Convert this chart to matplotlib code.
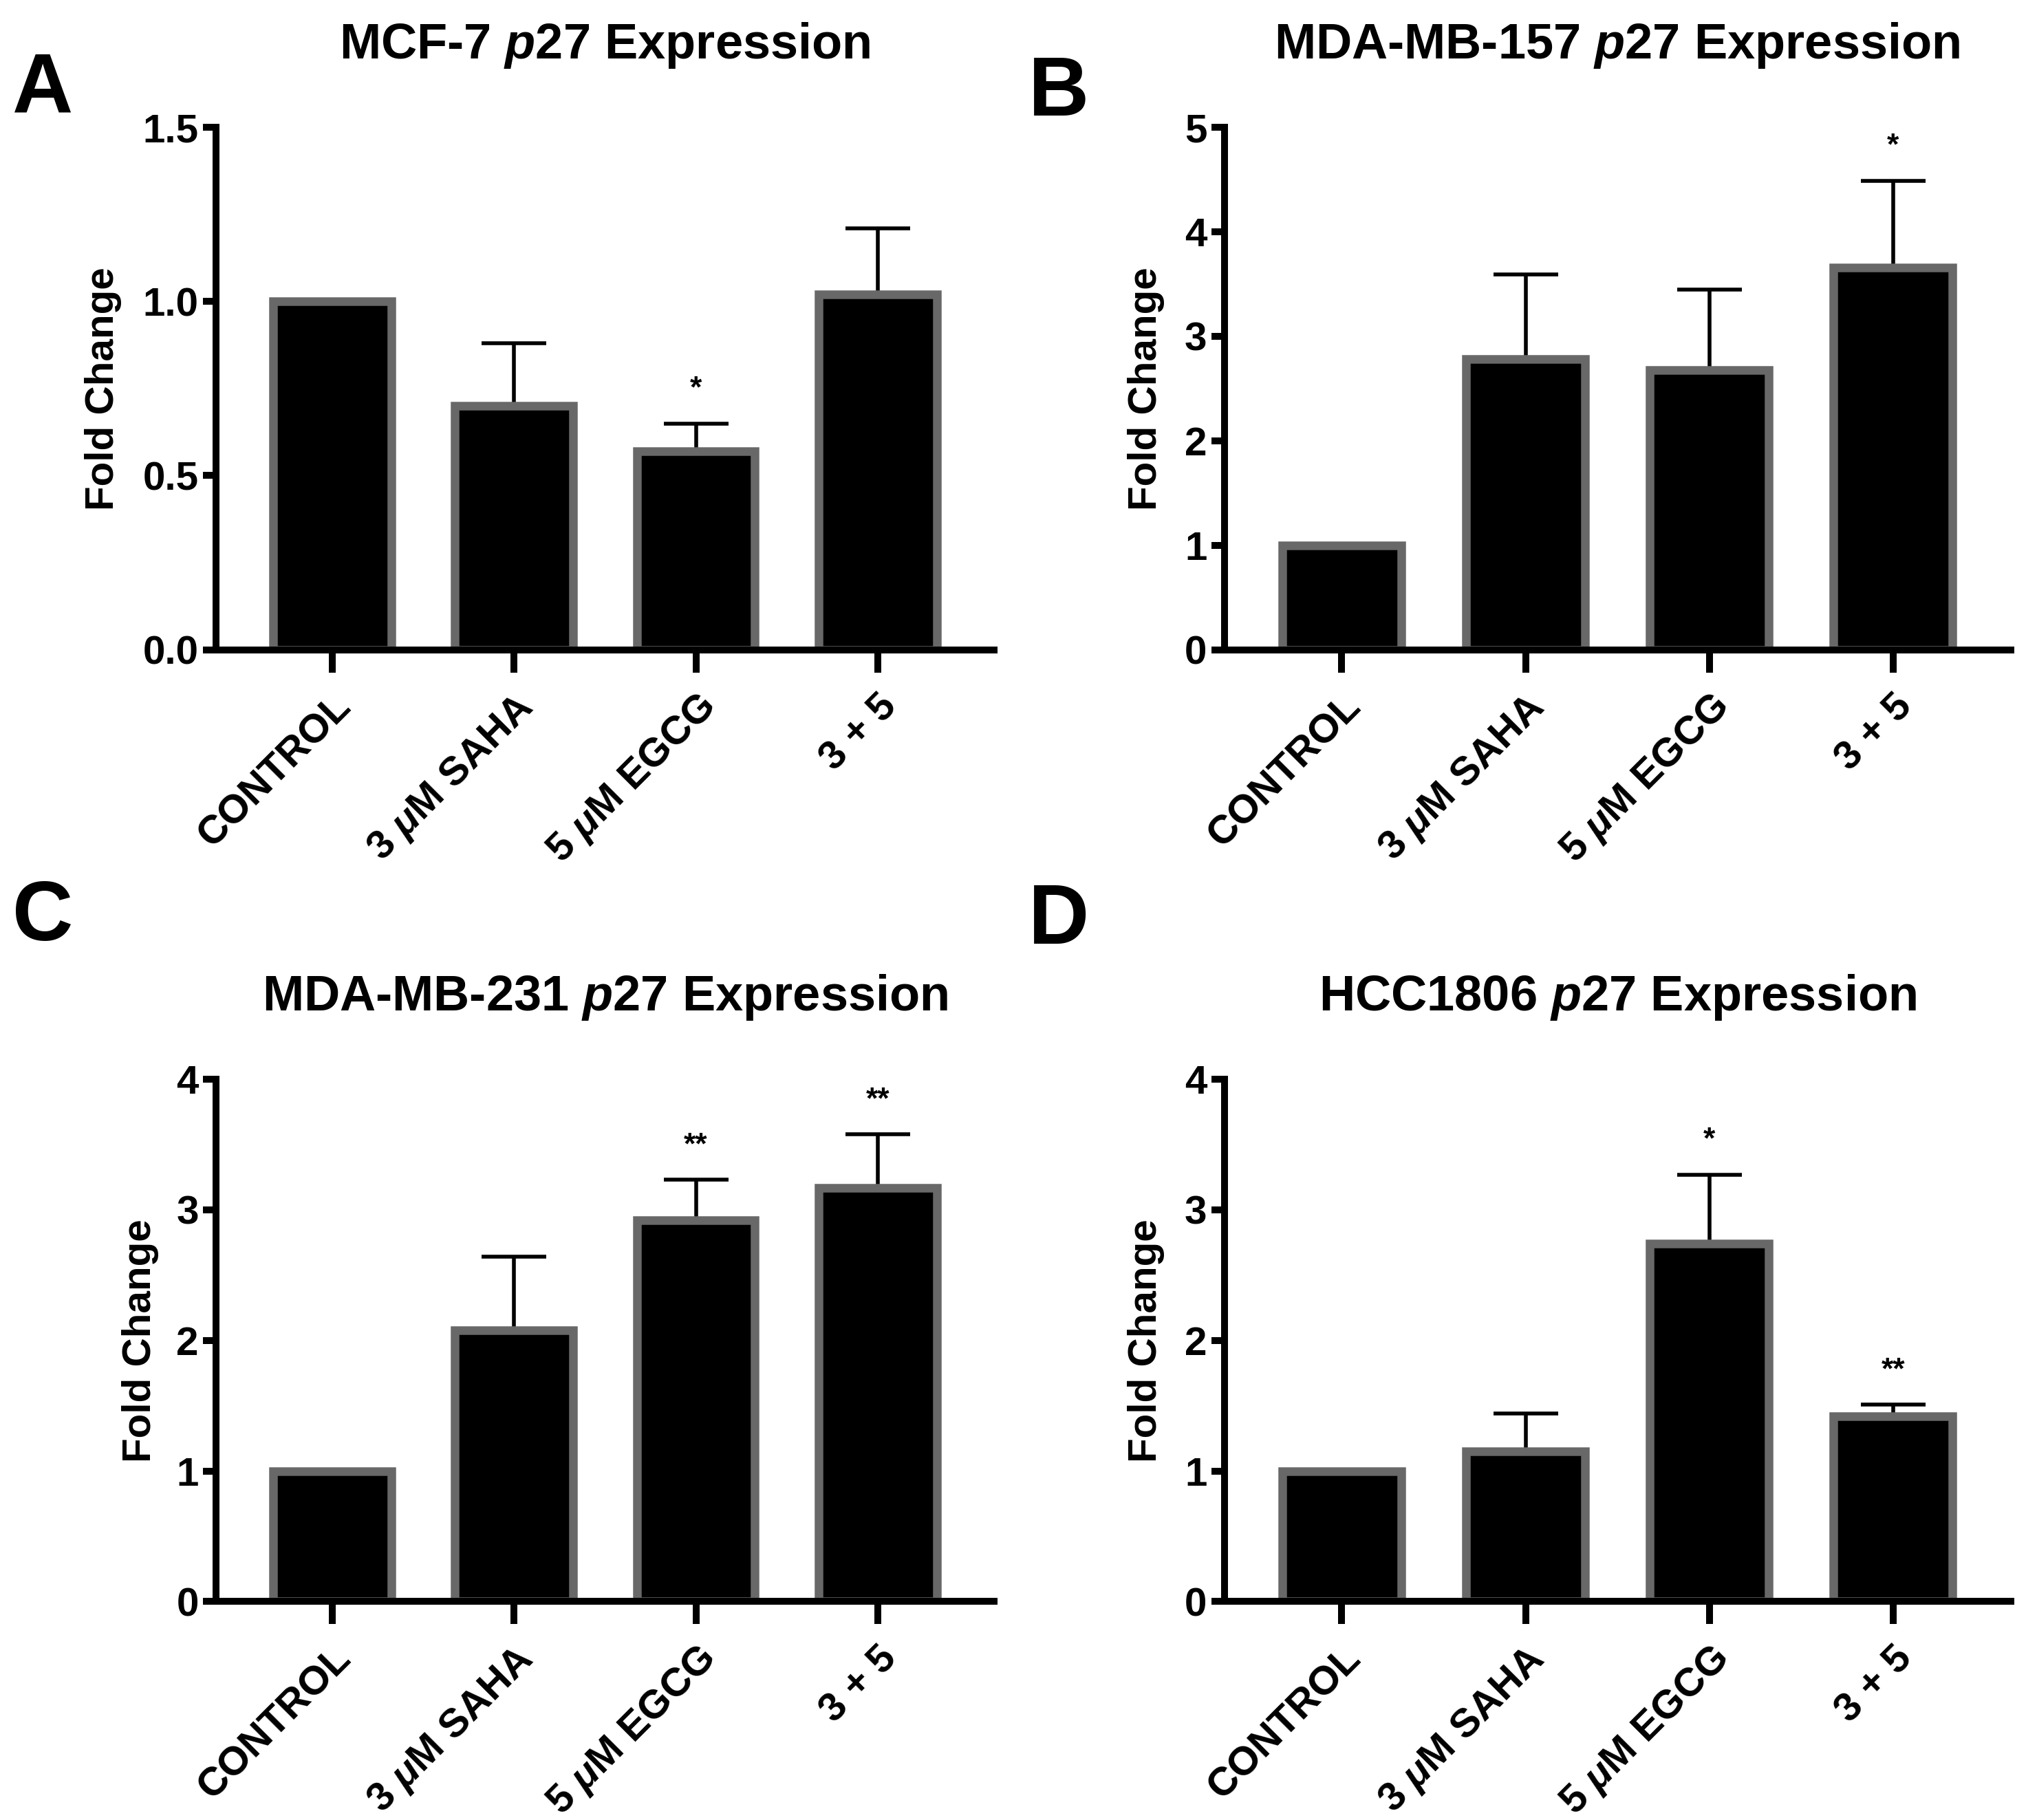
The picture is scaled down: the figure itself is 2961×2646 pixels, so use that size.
import matplotlib
matplotlib.use("Agg")
import matplotlib.pyplot as plt
import numpy as np

plt.rcParams['font.family'] = ['Liberation Sans', 'DejaVu Sans']
plt.rcParams['font.weight'] = 'bold'
plt.rcParams['mathtext.fontset'] = 'custom'
plt.rcParams['mathtext.rm'] = 'Liberation Sans:bold'
plt.rcParams['mathtext.it'] = 'Liberation Sans:italic:bold'
plt.rcParams['mathtext.bf'] = 'Liberation Sans:bold'

# data
groups = ['CONTROL', r'3 $\mathit{\mu}$M SAHA', r'5 $\mathit{\mu}$M EGCG', '3 + 5']

mcf7_mean = [1.0, 0.70, 0.57, 1.02]
mcf7_err = [0.0, 0.18, 0.08, 0.19]
mcf7_sig = ['', '', '*', '']

mb157_mean = [1.0, 2.78, 2.68, 3.66]
mb157_err = [0.0, 0.81, 0.77, 0.83]
mb157_sig = ['', '', '', '*']

mb231_mean = [1.0, 2.08, 2.92, 3.17]
mb231_err = [0.0, 0.56, 0.31, 0.41]
mb231_sig = ['', '', '**', '**']

hcc_mean = [1.0, 1.15, 2.74, 1.42]
hcc_err = [0.0, 0.29, 0.53, 0.09]
hcc_sig = ['', '', '*', '**']

panels = [
    ('A', 'MCF-7', mcf7_mean, mcf7_err, mcf7_sig, [0, 0.5, 1.0, 1.5], '{:.1f}'),
    ('B', 'MDA-MB-157', mb157_mean, mb157_err, mb157_sig, [0, 1, 2, 3, 4, 5], '{:d}'),
    ('C', 'MDA-MB-231', mb231_mean, mb231_err, mb231_sig, [0, 1, 2, 3, 4], '{:d}'),
    ('D', 'HCC1806', hcc_mean, hcc_err, hcc_sig, [0, 1, 2, 3, 4], '{:d}'),
]

rects = [
    [0.106, 0.643, 0.382, 0.287],
    [0.601, 0.643, 0.386, 0.287],
    [0.106, 0.120, 0.382, 0.287],
    [0.601, 0.120, 0.386, 0.287],
]
label_x = [-0.121, -0.076, -0.073, -0.076]
letter_pos = [(0.006, 0.972), (0.505, 0.970), (0.006, 0.517), (0.505, 0.515)]

fig = plt.figure(figsize=(14.805, 13.23), dpi=200)

for i, (letter, cell, mean, err, sig, yticks, fmt) in enumerate(panels):
    ax = fig.add_axes(rects[i])
    x = np.arange(len(groups))
    lower = np.zeros(len(err))
    ax.errorbar(x, mean, yerr=[lower, err], fmt='none', ecolor='black',
                elinewidth=2.0, capsize=17, capthick=2.0, zorder=2)
    ax.bar(x, mean, width=0.65, color='black', edgecolor='#686868',
           linewidth=4.5, zorder=3)
    ymax = yticks[-1]
    for xi, m, e, s in zip(x, mean, err, sig):
        if s:
            ax.text(xi, m + e + 0.065 * ymax, s, ha='center', va='center',
                    fontsize=16, fontweight='bold')
    ax.set_xlim(-0.64, 3.64)
    ax.set_ylim(0, ymax)
    ax.set_yticks(yticks)
    ax.set_yticklabels([fmt.format(t) for t in yticks])
    ax.set_xticks(x)
    ax.set_xticklabels(groups, rotation=45, ha='right', rotation_mode='anchor')
    for sp in ['top', 'right']:
        ax.spines[sp].set_visible(False)
    for sp in ['left', 'bottom']:
        ax.spines[sp].set_linewidth(3.6)
        ax.spines[sp].set_zorder(4)
    ax.tick_params(axis='y', length=7, width=3.6, labelsize=21, pad=2)
    ax.tick_params(axis='x', length=12, width=3.6, labelsize=21, pad=8)
    ax.set_ylabel('Fold Change', fontsize=21, fontweight='bold')
    ax.yaxis.set_label_coords(label_x[i], 0.5)
    ax.text(0.5, 1 + 0.045 / 0.287, cell + r' $\mathit{p27}$ Expression',
            transform=ax.transAxes, ha='center', va='center', fontsize=26,
            fontweight='bold')
    lx, ly = letter_pos[i]
    fig.text(lx, ly, letter, ha='left', va='top', fontsize=44, fontweight='bold')

fig.savefig('out.png', dpi=200)
